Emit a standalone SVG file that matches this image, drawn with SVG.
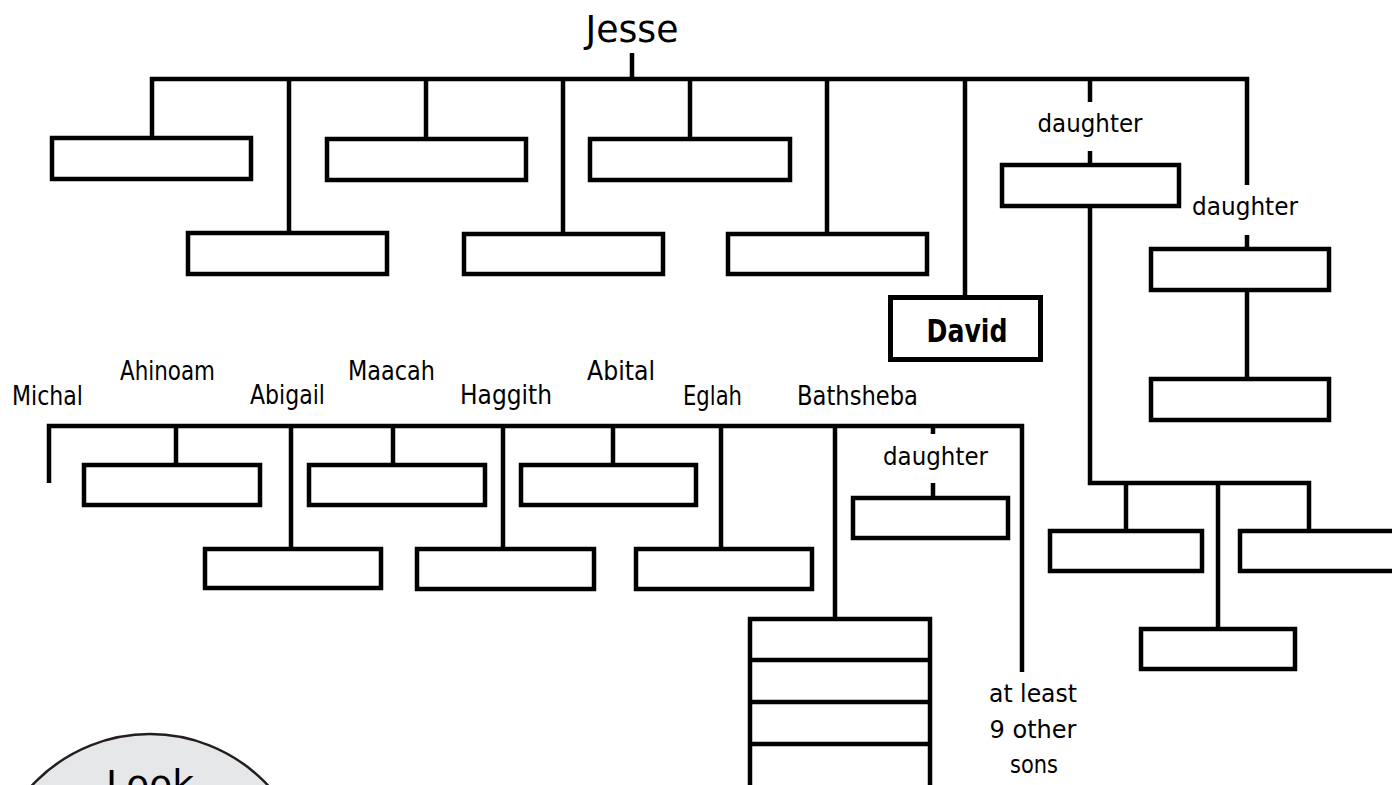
<svg xmlns="http://www.w3.org/2000/svg" width="1392" height="785" viewBox="0 0 1392 785">
<style>
  .box{fill:#fff;stroke:#000;stroke-width:4.5}
  .dbox{fill:#fff;stroke:#000;stroke-width:5}
  .ln{fill:none;stroke:#000;stroke-width:4.5;stroke-linejoin:miter}
  .t{font-family:"DejaVu Sans",sans-serif;fill:#000;text-anchor:middle}
  .nm{font-size:27px}
  .dt{font-size:25px}
  .big{font-size:37px}
  .bold{font-size:32px;font-weight:bold}
</style>
<rect x="0" y="0" width="1392" height="785" fill="#fff"/>

<g id="connectors">
  <line class="ln" x1="632" y1="53" x2="632" y2="79"/>
  <path class="ln" d="M152,138 V79 H1247 V185"/>
  <line class="ln" x1="289" y1="79" x2="289" y2="233"/>
  <line class="ln" x1="426" y1="79" x2="426" y2="139"/>
  <line class="ln" x1="563" y1="79" x2="563" y2="234"/>
  <line class="ln" x1="690" y1="79" x2="690" y2="139"/>
  <line class="ln" x1="827" y1="79" x2="827" y2="234"/>
  <line class="ln" x1="965" y1="79" x2="965" y2="297"/>
  <line class="ln" x1="1090" y1="79" x2="1090" y2="102"/>
  <line class="ln" x1="1090" y1="151" x2="1090" y2="165"/>
  <line class="ln" x1="1247" y1="235" x2="1247" y2="249"/>
  <line class="ln" x1="1247" y1="290" x2="1247" y2="379"/>
  <path class="ln" d="M1090,206 V483 H1309 V531"/>
  <line class="ln" x1="1126" y1="483" x2="1126" y2="531"/>
  <line class="ln" x1="1218" y1="483" x2="1218" y2="629"/>
  <path class="ln" d="M49,483 V426 H1022 V672"/>
  <line class="ln" x1="176" y1="426" x2="176" y2="465"/>
  <line class="ln" x1="291" y1="426" x2="291" y2="549"/>
  <line class="ln" x1="393" y1="426" x2="393" y2="465"/>
  <line class="ln" x1="503" y1="426" x2="503" y2="549"/>
  <line class="ln" x1="613" y1="426" x2="613" y2="465"/>
  <line class="ln" x1="721" y1="426" x2="721" y2="549"/>
  <line class="ln" x1="835" y1="426" x2="835" y2="619"/>
  <line class="ln" x1="933" y1="426" x2="933" y2="434"/>
  <line class="ln" x1="933" y1="483" x2="933" y2="498"/>
</g>

<g id="jesse"><text class="t big" x="632" y="42" textLength="93" lengthAdjust="spacingAndGlyphs">Jesse</text></g>

<g id="son1"><rect class="box" x="52" y="138" width="199" height="41"/></g>
<g id="son2"><rect class="box" x="188" y="233" width="199" height="41"/></g>
<g id="son3"><rect class="box" x="327" y="139" width="199" height="41"/></g>
<g id="son4"><rect class="box" x="464" y="234" width="199" height="40"/></g>
<g id="son5"><rect class="box" x="590" y="139" width="200" height="41"/></g>
<g id="son6"><rect class="box" x="728" y="234" width="199" height="40"/></g>
<g id="david">
  <rect class="dbox" x="890.5" y="297.5" width="150" height="62"/>
  <text class="t bold" x="967" y="342" textLength="81" lengthAdjust="spacingAndGlyphs">David</text>
</g>
<g id="daughter1">
  <text class="t dt" x="1090" y="132" textLength="105" lengthAdjust="spacingAndGlyphs">daughter</text>
  <rect class="box" x="1002" y="165" width="177" height="41"/>
</g>
<g id="daughter2">
  <text class="t dt" x="1245" y="215" textLength="106" lengthAdjust="spacingAndGlyphs">daughter</text>
  <rect class="box" x="1151" y="249" width="178" height="41"/>
</g>
<g id="daughter2-child"><rect class="box" x="1151" y="379" width="178" height="41"/></g>
<g id="d1-child1"><rect class="box" x="1050" y="531" width="152" height="40"/></g>
<g id="d1-child2"><rect class="box" x="1141" y="629" width="154" height="40"/></g>
<g id="d1-child3"><rect class="box" x="1240" y="531" width="170" height="40"/></g>

<g id="michal"><text class="t nm" x="47.5" y="405" textLength="71" lengthAdjust="spacingAndGlyphs">Michal</text></g>
<g id="ahinoam">
  <text class="t nm" x="167.5" y="380" textLength="95" lengthAdjust="spacingAndGlyphs">Ahinoam</text>
  <rect class="box" x="84" y="465" width="176" height="40"/>
</g>
<g id="abigail">
  <text class="t nm" x="287.5" y="404" textLength="75" lengthAdjust="spacingAndGlyphs">Abigail</text>
  <rect class="box" x="205" y="549" width="176" height="39"/>
</g>
<g id="maacah">
  <text class="t nm" x="391.5" y="380" textLength="87" lengthAdjust="spacingAndGlyphs">Maacah</text>
  <rect class="box" x="309" y="465" width="176" height="40"/>
</g>
<g id="haggith">
  <text class="t nm" x="506" y="404" textLength="92" lengthAdjust="spacingAndGlyphs">Haggith</text>
  <rect class="box" x="417" y="549" width="177" height="40"/>
</g>
<g id="abital">
  <text class="t nm" x="621" y="380" textLength="68" lengthAdjust="spacingAndGlyphs">Abital</text>
  <rect class="box" x="521" y="465" width="175" height="40"/>
</g>
<g id="eglah">
  <text class="t nm" x="712.5" y="405" textLength="59" lengthAdjust="spacingAndGlyphs">Eglah</text>
  <rect class="box" x="636" y="549" width="176" height="40"/>
</g>
<g id="bathsheba">
  <text class="t nm" x="857.5" y="405" textLength="121" lengthAdjust="spacingAndGlyphs">Bathsheba</text>
  <rect class="box" x="750" y="619" width="180" height="200"/>
  <line class="ln" x1="750" y1="660" x2="930" y2="660"/>
  <line class="ln" x1="750" y1="702" x2="930" y2="702"/>
  <line class="ln" x1="750" y1="744" x2="930" y2="744"/>
</g>
<g id="daughter3">
  <text class="t dt" x="935.5" y="465" textLength="105" lengthAdjust="spacingAndGlyphs">daughter</text>
  <rect class="box" x="853" y="498" width="155" height="40"/>
</g>
<g id="other-sons">
  <text class="t dt" x="1033" y="702" textLength="88" lengthAdjust="spacingAndGlyphs">at least</text>
  <text class="t dt" x="1033" y="738" textLength="87" lengthAdjust="spacingAndGlyphs">9 other</text>
  <text class="t dt" x="1034" y="773" textLength="48" lengthAdjust="spacingAndGlyphs">sons</text>
</g>

<g id="look">
  <circle cx="150" cy="895" r="161" fill="#e6e7e8" stroke="#231f20" stroke-width="2.5"/>
  <text class="t big" x="150" y="797" textLength="88" lengthAdjust="spacingAndGlyphs">Look</text>
</g>
</svg>
